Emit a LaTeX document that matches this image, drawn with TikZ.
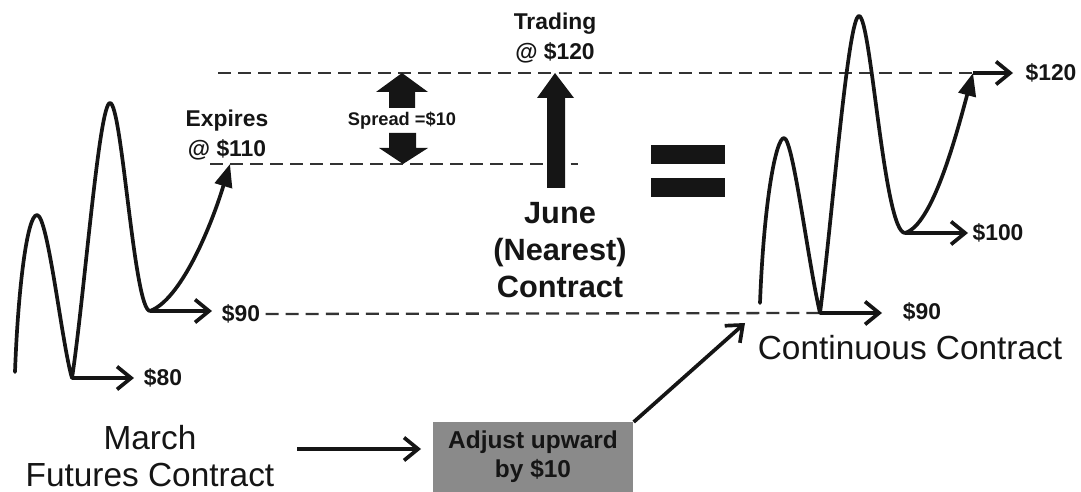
\documentclass[tikz,border=0pt]{standalone}
\usepackage{fontspec}
\setmainfont{Liberation Sans}
\usetikzlibrary{arrows.meta}
\definecolor{ink}{HTML}{151515}
\definecolor{boxgray}{HTML}{8A8A8A}
\definecolor{dashgray}{HTML}{333333}
\tikzset{
  wave/.style={draw=ink, line width=2.1pt, line join=round, line cap=round},
  openarrow/.style={draw=ink, line width=2.1pt, -{Straight Barb[length=8pt,width=13pt,line width=2.1pt]}},
  solidhead/.style={draw=ink, line width=2.1pt, -{Triangle[length=13pt,width=10pt]}},
  level/.style={draw=dashgray, line width=1.3pt, dash pattern=on 7.4pt off 4pt},
  block/.style={fill=ink, draw=none},
  price/.style={text=ink, font=\fontsize{13}{15}\selectfont\bfseries, inner sep=0pt},
  caption/.style={text=ink, align=center, inner sep=0pt},
}
\begin{document}
\begin{tikzpicture}[x=0.02cm, y=-0.02cm]
\useasboundingbox (0,0) rectangle (1081,492);

% ---------- price levels ----------
\coordinate (top l) at (218,73);
\coordinate (top r) at (973,73);
\coordinate (mid l) at (210,164);
\coordinate (mid r) at (578,164);
\coordinate (low r) at (820,313);
\draw[level] (top l) -- (top r);
\draw[level] (mid l) -- (mid r);

% ---------- March contract ----------
\coordinate (m0) at (15,372);
\coordinate (m1) at (37,215);
\coordinate (m2) at (72,378);
\coordinate (m3) at (110,103);
\coordinate (m4) at (150,311);
\coordinate (mx) at (230,164);
\draw[wave] (m0) .. controls (18,290) and (27,215) .. (m1)
  .. controls (48,215) and (62,345) .. (m2)
  .. controls (84,300) and (99,103) .. (m3)
  .. controls (122,103) and (134,311) .. (m4);
\draw[solidhead] (m4) .. controls (180,300) and (210,230) .. (mx);
\node[price] (p80) at (163,378) {\$80};
\node[price] (p90) at (241,314) {\$90};
\coordinate (p80end) at (134,378);
\coordinate (p90end) at (212,311);
\draw[openarrow] (m2) -- (p80end);
\draw[openarrow] (m4) -- (p90end);
\draw[level] ([xshift=3pt]p90.east) -- (low r);
\node[price, align=center] (expires) at (227,135) {Expires\\[2pt]@ \$110};

% ---------- spread ----------
\node[caption, font=\fontsize{10.4}{12}\selectfont\bfseries] (spread) at (402,121) {Spread =\$10};
\fill[block] (402,73) -- (428,92) -- (415,92) -- (415,108) -- (389,108) -- (389,92) -- (376,92) -- cycle;
\fill[block] (403,164) -- (428,148) -- (416,148) -- (416,133) -- (389,133) -- (389,148) -- (379,148) -- cycle;

% ---------- June contract ----------
\node[price, align=center] (trading) at (555,38) {Trading\\[2pt]@ \$120};
\fill[block] (555,73) -- (574,98) -- (565,98) -- (565,188) -- (547,188) -- (547,98) -- (537,98) -- cycle;
\node[caption, font=\fontsize{17.5}{21}\selectfont\bfseries] (june) at (560,250) {June\\(Nearest)\\Contract};

% ---------- equals ----------
\fill[block] (651,145) rectangle (725,164);
\fill[block] (651,178) rectangle (725,197);

% ---------- continuous contract ----------
\coordinate (c0) at (760,303);
\coordinate (c1) at (784,138);
\coordinate (c2) at (820,313);
\coordinate (c3) at (859,16);
\coordinate (c4) at (905,233);
\draw[wave] (c0) .. controls (764,200) and (776,138) .. (c1)
  .. controls (793,138) and (808,262) .. (c2)
  .. controls (832,220) and (848,16) .. (c3)
  .. controls (871,16) and (884,233) .. (c4);
\draw[solidhead] (c4) .. controls (932,225) and (955,140) .. (top r);
\node[price] (c90) at (922,312) {\$90};
\node[price] (c100) at (998,233) {\$100};
\node[price] (c120) at (1051,73) {\$120};
\coordinate (c90end) at (882,313);
\coordinate (c100end) at (968,233);
\coordinate (c120end) at (1013,73);
\draw[openarrow] (c2) -- (c90end);
\draw[openarrow] (c4) -- (c100end);
\draw[openarrow] (top r) -- (c120end);
\node[caption, font=\fontsize{19}{22}\selectfont] (cont) at (910,348) {Continuous Contract};

% ---------- adjustment ----------
\node[caption, font=\fontsize{19}{21.5}\selectfont] (march) at (150,456) {March\\Futures Contract};
\node[fill=boxgray, minimum width=200*0.02cm, minimum height=76*0.02cm, anchor=north west, inner sep=0pt] (adj) at (433,422) {};
\node[caption, font=\fontsize{13.9}{16.5}\selectfont\bfseries] (adjtext) at (533,457) {Adjust upward\\by \$10};
\coordinate (marchstart) at (297,449);
\coordinate (marchend) at (421,449);
\coordinate (adjtip) at (745,323);
\draw[openarrow] (marchstart) -- (marchend);
\draw[openarrow] (adj.north east) -- (adjtip);
\end{tikzpicture}
\end{document}
